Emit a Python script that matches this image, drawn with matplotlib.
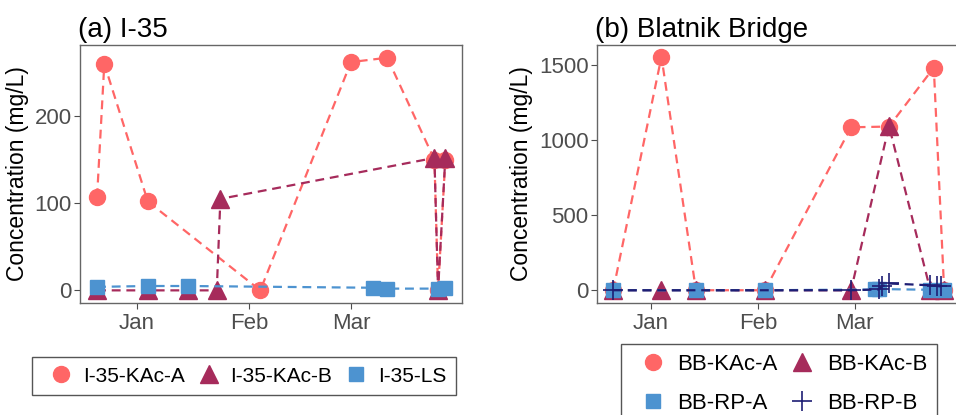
import datetime as dt
import matplotlib
matplotlib.use("Agg")
import matplotlib.pyplot as plt
import matplotlib.dates as mdates
from matplotlib.lines import Line2D

plt.rcParams['font.family'] = ['Liberation Sans', 'DejaVu Sans']


def d(m, day):
    # season runs Dec 2020 -> Mar 2021
    return dt.datetime(2020 if m == 12 else 2021, m, day)


# (a) I-35
i35_kaca_dates = [d(12, 21), d(12, 23), d(1, 4), d(2, 4), d(3, 1), d(3, 11), d(3, 24), d(3, 25), d(3, 27)]
i35_kaca_vals = [107, 260, 102, 0, 262, 267, 150, 0, 150]
i35_kacb_dates = [d(12, 21), d(1, 4), d(1, 15), d(1, 23), d(1, 24), d(3, 24), d(3, 25), d(3, 27)]
i35_kacb_vals = [0, 0, 0, 0, 105, 152, 0, 152]
i35_ls_dates = [d(12, 21), d(1, 4), d(1, 15), d(3, 7), d(3, 11), d(3, 25), d(3, 27)]
i35_ls_vals = [4, 5, 5, 3, 2, 2, 3]

# (b) Blatnik Bridge
bb_kaca_dates = [d(12, 21), d(1, 4), d(1, 14), d(2, 3), d(2, 28), d(3, 11), d(3, 24), d(3, 27)]
bb_kaca_vals = [0, 1555, 0, 0, 1085, 1090, 1482, 0]
bb_kacb_dates = [d(12, 21), d(1, 4), d(1, 14), d(2, 3), d(2, 28), d(3, 11), d(3, 23), d(3, 27)]
bb_kacb_vals = [0, 0, 0, 0, 0, 1095, 0, 0]
bb_rpa_dates = [d(12, 21), d(1, 14), d(2, 3), d(3, 7), d(3, 8), d(3, 23), d(3, 27)]
bb_rpa_vals = [0, 0, 0, 5, 8, 3, 3]
bb_rpb_dates = [d(12, 21), d(2, 28), d(3, 8), d(3, 9), d(3, 11), d(3, 23), d(3, 25), d(3, 26)]
bb_rpb_vals = [0, 0, 5, 27, 45, 33, 28, 25]

c_a = '#FF6666'
c_b = '#A62B5B'
c_ls = '#4D93D0'
c_p = '#1E1E74'
grey = '#4D4D4D'

W, H = 956, 415
fig = plt.figure(figsize=(W / 100, H / 100), dpi=100)

ax1 = fig.add_axes([80 / W, (H - 303) / H, 382 / W, 258 / H])
ax2 = fig.add_axes([597 / W, (H - 303) / H, 373 / W, 258 / H])

dash = dict(linestyle='--', dashes=(4, 2.6), linewidth=1.6)

ax1.plot(i35_kaca_dates, i35_kaca_vals, color=c_a, marker='o', markersize=11.5, **dash)
ax1.plot(i35_kacb_dates, i35_kacb_vals, color=c_b, marker='^', markersize=12.5, **dash)
ax1.plot(i35_ls_dates, i35_ls_vals, color=c_ls, marker='s', markersize=10, **dash)

ax2.plot(bb_kaca_dates, bb_kaca_vals, color=c_a, marker='o', markersize=11.5, **dash)
ax2.plot(bb_kacb_dates, bb_kacb_vals, color=c_b, marker='^', markersize=12.5, **dash)
ax2.plot(bb_rpa_dates, bb_rpa_vals, color=c_ls, marker='s', markersize=10, **dash)
ax2.plot(bb_rpb_dates, bb_rpb_vals, color=c_p, marker='+', markersize=14, markeredgewidth=1.2, **dash)

jan1 = d(1, 1)
ax1.set_xlim(jan1 - dt.timedelta(days=15.7), jan1 + dt.timedelta(days=59 + 30.6))
ax1.set_ylim(-14.5, 281.6)
ax1.set_yticks([0, 100, 200])
ax2.set_xlim(jan1 - dt.timedelta(days=15.7), jan1 - dt.timedelta(days=15.7) + dt.timedelta(days=108.2))
ax2.set_ylim(-85, 1633)
ax2.set_yticks([0, 500, 1000, 1500])

for ax, title in [(ax1, '(a) I-35'), (ax2, '(b) Blatnik Bridge')]:
    ax.xaxis.set_major_locator(mdates.MonthLocator(bymonth=[1, 2, 3]))
    ax.xaxis.set_major_formatter(mdates.DateFormatter('%b'))
    ax.tick_params(labelsize=16, colors=grey, length=4, width=0.8, pad=2)
    ax.tick_params(axis='x', pad=3)
    for s in ax.spines.values():
        s.set_color('#666666')
        s.set_linewidth(1.0)
    ax.set_ylabel('Concentration (mg/L)', fontsize=16.5, labelpad=4)
    ax.set_title(title, fontsize=20, loc='left', x=-0.005, pad=6)

leg_style = dict(frameon=True, fancybox=False, edgecolor='#555555',
                 framealpha=1, borderpad=0.45, borderaxespad=0)

h1 = [Line2D([], [], color=c_a, marker='o', markersize=11.5, linestyle='none'),
      Line2D([], [], color=c_b, marker='^', markersize=12.5, linestyle='none'),
      Line2D([], [], color=c_ls, marker='s', markersize=10, linestyle='none')]
fig.legend(h1, ['I-35-KAc-A', 'I-35-KAc-B', 'I-35-LS'], loc='center',
           bbox_to_anchor=(244 / W, (H - 376) / H), ncol=3, fontsize=15,
           handlelength=1.9, handletextpad=0.1, columnspacing=0.2, **leg_style)

h2 = [Line2D([], [], color=c_a, marker='o', markersize=11.5, linestyle='none'),
      Line2D([], [], color=c_ls, marker='s', markersize=10, linestyle='none'),
      Line2D([], [], color=c_b, marker='^', markersize=12.5, linestyle='none'),
      Line2D([], [], color=c_p, marker='+', markersize=14, markeredgewidth=1.2, linestyle='none')]
fig.legend(h2, ['BB-KAc-A', 'BB-RP-A', 'BB-KAc-B', 'BB-RP-B'], loc='upper center',
           bbox_to_anchor=(779 / W, (H - 344) / H), ncol=2, fontsize=16,
           handlelength=1.95, handletextpad=0.15, columnspacing=0.1,
           labelspacing=0.8, **leg_style)
for lg in fig.legends:
    lg.get_frame().set_linewidth(1.0)

fig.savefig('out.png', dpi=100)
